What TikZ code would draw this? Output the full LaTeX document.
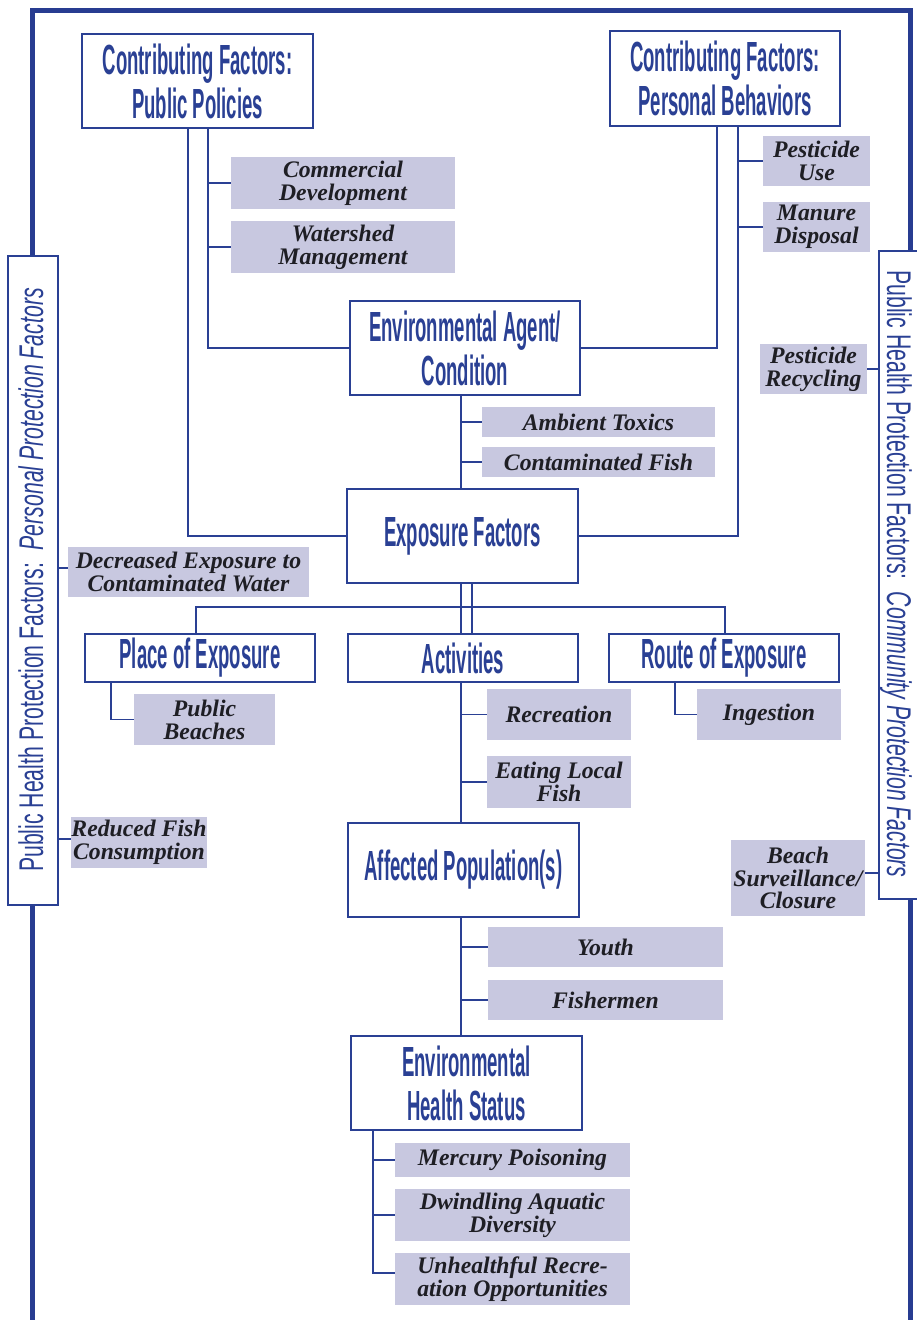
\documentclass[tikz,border=0pt]{standalone}
\usepackage{fontspec}
\setmainfont{Liberation Serif}
\newfontfamily\headfont[FakeStretch=0.44]{Liberation Sans}
\newfontfamily\sidefont[FakeStretch=0.62]{Liberation Sans}
\newfontfamily\tagfont{Liberation Serif}
\definecolor{hblue}{RGB}{42,64,148}
\definecolor{fblue}{RGB}{40,60,145}
\definecolor{tagfill}{RGB}{200,200,224}
\definecolor{tagtext}{RGB}{30,30,36}

\begin{document}
\begin{tikzpicture}[x=0.02cm,y=-0.02cm,
  head/.style={draw=hblue, line width=0.85pt, fill=white, text=hblue, align=center,
    inner sep=0pt, outer sep=0pt, font=\headfont\bfseries\fontsize{24}{25}\selectfont},
  tag/.style={fill=tagfill, text=tagtext, align=center, inner sep=0pt, outer sep=0pt,
    font=\tagfont\bfseries\itshape\fontsize{13.5}{13}\selectfont},
  sidebox/.style={draw=hblue, line width=0.85pt, fill=white, inner sep=0pt, outer sep=0pt},
  sidetext/.style={text=hblue, inner sep=0pt, font=\sidefont\fontsize{19.5}{20}\selectfont},
  link/.style={draw=hblue, line width=0.85pt},
  frameline/.style={draw=fblue, line width=2.85pt},
  wh/.style 2 args={minimum width=#1*0.02cm, minimum height=#2*0.02cm}]

\useasboundingbox (0,0) rectangle (917,1320);
\clip (0,0) rectangle (917,1320);

% outer frame
\draw[frameline] (32.5,1330) -- (32.5,10) -- (910,10) -- (910,1330);

% side panels
\node[sidebox, wh={50}{649}] (lside) at (33,580.5) {};
\node[sidetext, rotate=90] (ltext) at (31,580)
  {Public Health Protection Factors:\hspace{7pt}\textit{Personal Protection Factors}};
\node[sidebox, wh={46}{648}] (rside) at (902,575) {};
\node[sidetext, rotate=-90] (rtext) at (896,574)
  {Public Health Protection Factors:\hspace{7pt}\textit{Community Protection Factors}};

% main boxes
\node[head, wh={231}{94}] (pp) at (197.5,81) {Contributing Factors:\\Public Policies};
\node[head, wh={230}{95}] (pb) at (725,78.5) {Contributing Factors:\\Personal Behaviors};
\node[head, wh={230}{94}] (env) at (465,348) {Environmental Agent/\\Condition};
\node[head, wh={231}{94}] (exp) at (462.5,536) {Exposure Factors};
\node[head, wh={230}{48}] (place) at (200,658) {Place of Exposure};
\node[head, wh={230}{48}] (act) at (463,658) {Activities};
\node[head, wh={230}{48}] (route) at (724,658) {Route of Exposure};
\node[head, wh={231}{94}] (aff) at (463.5,870) {Affected Population(s)};
\node[head, wh={231}{94}] (ehs) at (466.5,1083) {Environmental\\Health Status};

% grey factor tags
\node[tag, wh={224}{52}] (com) at (343,183) {Commercial\\Development};
\node[tag, wh={224}{52}] (wat) at (343,247) {Watershed\\Management};
\node[tag, wh={107}{50}] (puse) at (816.5,161) {Pesticide\\Use};
\node[tag, wh={107}{50}] (man) at (816.5,227) {Manure\\Disposal};
\node[tag, wh={107}{50}] (prec) at (813.5,369) {Pesticide\\Recycling};
\node[tag, wh={233}{30}] (amb) at (598.5,422) {Ambient Toxics};
\node[tag, wh={233}{30}] (cfish) at (598.5,462) {Contaminated Fish};
\node[tag, wh={241}{50}] (dec) at (188.5,572) {Decreased Exposure to\\Contaminated Water};
\node[tag, wh={141}{51}] (pbeach) at (204.5,719.5) {Public\\Beaches};
\node[tag, wh={144}{51}] (rec) at (559,714.5) {Recreation};
\node[tag, wh={144}{52}] (eat) at (559,782) {Eating Local\\Fish};
\node[tag, wh={144}{51}] (ing) at (769,714.5) {Ingestion};
\node[tag, wh={134}{51}] (redf) at (139,842.5) {Reduced Fish\\Consumption};
\node[tag, wh={134}{76}] (beach) at (798,878) {Beach\\Surveillance/\\Closure};
\node[tag, wh={235}{40}] (youth) at (605.5,947) {Youth};
\node[tag, wh={235}{40}] (fisher) at (605.5,1000) {Fishermen};
\node[tag, wh={235}{34}] (merc) at (512.5,1160) {Mercury Poisoning};
\node[tag, wh={235}{52}] (dwin) at (512.5,1215) {Dwindling Aquatic\\Diversity};
\node[tag, wh={235}{52}] (unh) at (512.5,1279) {Unhealthful Recre-\\ation Opportunities};

% contributing factors
\draw[link] (pp.south -| 188,0) |- (exp.west);
\draw[link] (pp.south -| 208,0) |- (env.west);
\draw[link] (com.west -| 208,0) -- (com.west);
\draw[link] (wat.west -| 208,0) -- (wat.west);
\draw[link] (pb.south -| 717,0) |- (env.east);
\draw[link] (pb.south -| 738,0) |- (exp.east);
\draw[link] (puse.west -| 738,0) -- (puse.west);
\draw[link] (man.west -| 738,0) -- (man.west);

% protection factors
\draw[link] (prec.east) -- (prec.east -| rside.west);
\draw[link] (beach.east |- 0,873) -- (rside.west |- 0,873);
\draw[link] (lside.east |- 0,568) -- (dec.west |- 0,568);
\draw[link] (lside.east |- 0,839) -- (redf.west |- 0,839);

% agent to exposure
\draw[link] (env.south -| 461,0) -- (exp.north -| 461,0);
\draw[link] (amb.west -| 461,0) -- (amb.west);
\draw[link] (cfish.west -| 461,0) -- (cfish.west);

% exposure factors
\draw[link] (exp.south -| 461,0) -- (act.north -| 461,0);
\draw[link] (exp.south -| 472,0) -- (act.north -| 472,0);
\coordinate (busL) at (196,607);
\coordinate (busR) at (725,607);
\draw[link] (place.north -| busL) -- (busL) -- (busR) -- (route.north -| busR);
\draw[link] (place.south -| 111,0) |- (pbeach.west);
\draw[link] (route.south -| 675,0) |- (ing.west);
\draw[link] (act.south -| 461,0) -- (aff.north -| 461,0);
\draw[link] (rec.west -| 461,0) -- (rec.west);
\draw[link] (eat.west -| 461,0) -- (eat.west);

% population and health status
\draw[link] (aff.south -| 461,0) -- (ehs.north -| 461,0);
\draw[link] (youth.west -| 461,0) -- (youth.west);
\draw[link] (fisher.west -| 461,0) -- (fisher.west);
\draw[link] (ehs.south -| 373,0) |- (unh.west |- 0,1273);
\draw[link] (merc.west -| 373,0) -- (merc.west);
\draw[link] (dwin.west -| 373,0) -- (dwin.west);
\end{tikzpicture}
\end{document}
